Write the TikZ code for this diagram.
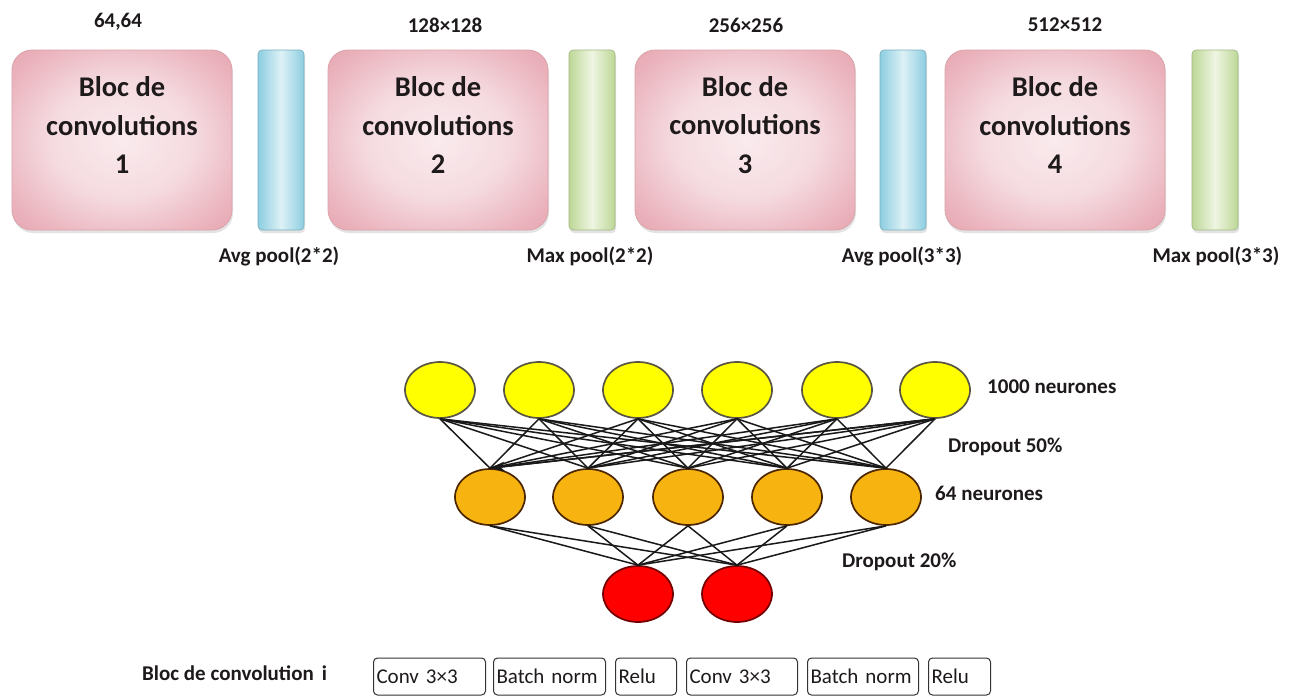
\documentclass[tikz,border=0pt]{standalone}
\usepackage{fontspec}
\setmainfont{Carlito}
\usetikzlibrary{shapes.geometric,shadows,arrows.meta}

\definecolor{ink}{HTML}{1E1A1B}
\definecolor{roseline}{HTML}{D9A3A9}
\definecolor{bluedge}{HTML}{8CCDE0}
\definecolor{bluemid}{HTML}{DDF1F6}
\definecolor{greenedge}{HTML}{BDD797}
\definecolor{greenmid}{HTML}{EEF5E2}
\definecolor{neuyellow}{HTML}{FFFF00}
\definecolor{neuorange}{HTML}{F7B30F}
\definecolor{neured}{HTML}{FF0000}

% soft pink fill: pale centre, rose towards the corners
\pgfdeclareradialshading{roseshade}{\pgfpoint{0bp}{0bp}}{%
  rgb(0bp)=(0.98,0.92,0.93);
  rgb(16bp)=(0.96,0.86,0.88);
  rgb(30bp)=(0.92,0.70,0.74);
  rgb(40bp)=(0.89,0.62,0.67);
  rgb(50bp)=(0.89,0.62,0.67)}

\tikzset{
  convblock/.style={rectangle, rounded corners=20pt, minimum width=220pt,
    minimum height=180pt, shading=roseshade,
    draw=roseline, line width=0.8pt,
    drop shadow={shadow xshift=1pt, shadow yshift=-3pt, opacity=0.22}},
  poolbar/.style={rectangle, rounded corners=4pt, minimum width=46pt,
    minimum height=180pt, line width=0.6pt,
    drop shadow={shadow xshift=1pt, shadow yshift=-3pt, opacity=0.22}},
  bluebar/.style={poolbar, left color=bluedge, right color=bluedge,
    middle color=bluemid, draw=bluedge!85!black},
  greenbar/.style={poolbar, left color=greenedge, right color=greenedge,
    middle color=greenmid, draw=greenedge!85!black},
  blocktext/.style={align=center, text=ink,
    font=\bfseries\fontsize{28.5}{38.5}\selectfont},
  lbl/.style={text=ink, font=\bfseries\fontsize{21}{25}\selectfont, inner sep=0pt},
  neuron/.style={ellipse, minimum width=70pt, minimum height=56pt,
    inner sep=0pt, line width=1.7pt},
  yneuron/.style={neuron, fill=neuyellow, draw=black!75!yellow},
  oneuron/.style={neuron, fill=neuorange, draw=black!70!orange},
  rneuron/.style={neuron, fill=neured, draw=black!55!red},
  wire/.style={line width=1.5pt, black!90},
  opbox/.style={draw=black!80, line width=1pt, rounded corners=4pt,
    anchor=west, minimum height=37pt, inner xsep=3pt, inner ysep=0pt,
    align=left, text=ink, font=\fontsize{21}{25}\selectfont}
}

\begin{document}
\begin{tikzpicture}[x=1pt, y=-1pt]
\useasboundingbox[fill=white] (0,0) rectangle (1293,697);

% convolution blocks and pooling bars
\node[convblock] (b1) at (122,140) {};
\node[bluebar]   (p1) at (281,140) {};
\node[convblock] (b2) at (438,140) {};
\node[greenbar]  (p2) at (592,140) {};
\node[convblock] (b3) at (745,140) {};
\node[bluebar]   (p3) at (903,140) {};
\node[convblock] (b4) at (1055,140) {};
\node[greenbar]  (p4) at (1215,140) {};

\node[blocktext] (t1) at (122,125) {Bloc de\\convolutions\\1};
\node[blocktext] (t2) at (438,125) {Bloc de\\convolutions\\2};
\node[blocktext] (t3) at (745,125) {Bloc de\\convolutions\\3};
\node[blocktext] (t4) at (1055,125) {Bloc de\\convolutions\\4};

% feature map sizes
\node[lbl] (s1) at (118,22) {64,64};
\node[lbl] (s2) at (445,25) {128×128};
\node[lbl] (s3) at (746,25) {256×256};
\node[lbl] (s4) at (1065,25) {512×512};

% pooling labels
\node[lbl] (l1) at (279,256) {Avg pool(2*2)};
\node[lbl] (l2) at (590,256) {Max pool(2*2)};
\node[lbl] (l3) at (902,256) {Avg pool(3*3)};
\node[lbl] (l4) at (1216,256) {Max pool(3*3)};

% dense layers
\foreach \i/\x in {1/440,2/539,3/638,4/737,5/837,6/935}
  \node[yneuron] (y\i) at (\x,390) {};
\foreach \i/\x in {1/490,2/588,3/688,4/787,5/886}
  \node[oneuron] (o\i) at (\x,497) {};
\foreach \i/\x in {1/638,2/737}
  \node[rneuron] (r\i) at (\x,594) {};

\foreach \i in {1,...,6}
  \foreach \j in {1,...,5}
    \draw[wire] (y\i.south) -- (o\j.north);
\draw[wire, -{Stealth[length=15pt,width=10pt]}] (y6.south) -- (o1.north);
\foreach \j in {1,...,5}
  \foreach \k in {1,2}
    \draw[wire] (o\j.south) -- (r\k.north);

\node[lbl, anchor=west] (n1) at (987,387) {1000 neurones};
\node[lbl, anchor=west] (d1) at (948,447) {Dropout 50\%};
\node[lbl, anchor=west] (n2) at (935,493) {64 neurones};
\node[lbl, anchor=west] (d2) at (842,562) {Dropout 20\%};

% layers inside one convolution block
\node[lbl, anchor=west] (bi) at (142,673) {Bloc de convolution\hspace{8pt}i};
\node[opbox, text width=106pt] (c1) at (373,676.5) {Conv 3×3};
\node[opbox, text width=106pt] (c2) at (493,676.5) {Batch norm};
\node[opbox, text width=55pt]  (c3) at (615,676.5) {Relu};
\node[opbox, text width=105pt] (c4) at (686,676.5) {Conv 3×3};
\node[opbox, text width=105pt] (c5) at (807,676.5) {Batch norm};
\node[opbox, text width=56pt]  (c6) at (928,676.5) {Relu};
\end{tikzpicture}
\end{document}
